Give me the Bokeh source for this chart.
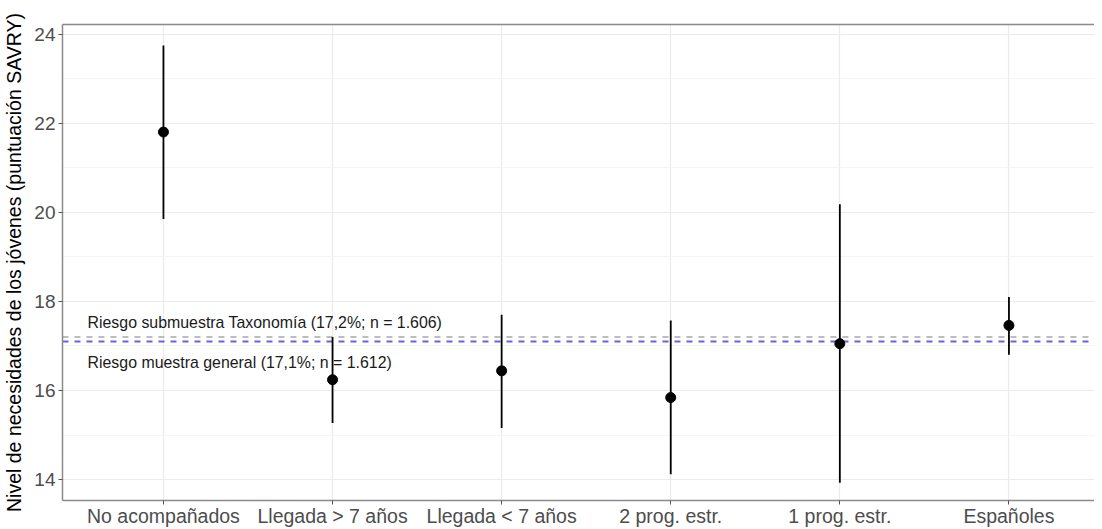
from bokeh.plotting import figure
from bokeh.models import FixedTicker, SingleIntervalTicker, LinearAxis, Span, ColumnDataSource
from bokeh.core.properties import value
from bokeh.embed import file_html
from bokeh.resources import INLINE

# ---- data ----
categories = ["No acompañados", "Llegada > 7 años", "Llegada < 7 años",
              "2 prog. estr.", "1 prog. estr.", "Españoles"]
means = [21.80, 16.24, 16.44, 15.84, 17.05, 17.46]
lowers = [19.85, 15.27, 15.16, 14.12, 13.93, 16.80]
uppers = [23.74, 17.20, 17.70, 17.57, 20.18, 18.10]

taxonomy_risk = 17.2
general_risk = 17.1
taxonomy_label = "Riesgo submuestra Taxonomía (17,2%; n = 1.606)"
general_label = "Riesgo muestra general (17,1%; n = 1.612)"
y_title = "Nivel de necesidades de los jóvenes (puntuación SAVRY)"

xs = list(range(1, len(categories) + 1))
src = ColumnDataSource(dict(x=xs, m=means, lo=lowers, hi=uppers))

FONT = "Liberation Sans"

p = figure(width=1094, height=529,
           x_range=(0.403, 6.506), y_range=(13.53, 24.214),
           output_backend="svg", toolbar_location=None,
           min_border_left=54, min_border_top=24, min_border_right=0,
           min_border_bottom=27)
p.outline_line_color = None
p.background_fill_color = "white"

# grid
p.xaxis.ticker = FixedTicker(ticks=xs)
p.xaxis.major_label_overrides = {i: c for i, c in zip(xs, categories)}
p.yaxis.ticker = SingleIntervalTicker(interval=2, num_minor_ticks=2)
p.xgrid.ticker = FixedTicker(ticks=xs)
for g in (p.xgrid, p.ygrid):
    g.grid_line_color = "#EBEBEB"
    g.grid_line_width = 1.2
p.ygrid.minor_grid_line_color = "#F2F2F2"
p.ygrid.minor_grid_line_width = 0.8

for ax in (p.xaxis, p.yaxis):
    ax.axis_line_color = "#8A8A8A"
    ax.axis_line_width = 1.5
    ax.major_tick_line_color = "#555555"
    ax.major_tick_in = 0
    ax.major_tick_out = 4
    ax.minor_tick_line_color = None
    ax.major_label_text_color = "#4D4D4D"
    ax.major_label_text_font = FONT
p.xaxis.major_label_text_font_size = "19.5px"
p.xaxis.major_label_standoff = 0
p.yaxis.major_label_text_font_size = "19px"
p.yaxis.major_label_standoff = 3
p.yaxis.axis_label = y_title
p.yaxis.axis_label_text_font = FONT
p.yaxis.axis_label_text_font_size = "19.5px"
p.yaxis.axis_label_text_font_style = "normal"
p.yaxis.axis_label_text_color = "#000000"
p.yaxis.axis_label_standoff = 6

top = LinearAxis(ticker=FixedTicker(ticks=[]), axis_line_color="#8A8A8A",
                 axis_line_width=1.5, major_tick_out=0, minor_tick_out=0,
                 major_label_text_font_size="0px")
p.add_layout(top, "above")

# reference lines
p.add_layout(Span(location=taxonomy_risk, dimension="width", line_color="#BDBDBD",
                  line_width=2, line_dash="6 6", level="underlay"))
p.add_layout(Span(location=general_risk, dimension="width", line_color="#6A62D6",
                  line_width=2, line_dash="6 6", level="underlay"))

# error bars & points
p.segment(x0="x", y0="lo", x1="x", y1="hi", source=src, line_color="black", line_width=1.8)
p.scatter(x="x", y="m", source=src, size=10, fill_color="black", line_color="black")

# annotations
p.text(x=[0.551], y=[17.52], text=[taxonomy_label], text_font=value(FONT),
       text_font_size="15.9px", text_align="left", text_baseline="middle",
       text_color="#1A1A1A")
p.text(x=[0.551], y=[16.62], text=[general_label], text_font=value(FONT),
       text_font_size="15.9px", text_align="left", text_baseline="middle",
       text_color="#1A1A1A")

open("out.html", "w").write(file_html(p, INLINE))
